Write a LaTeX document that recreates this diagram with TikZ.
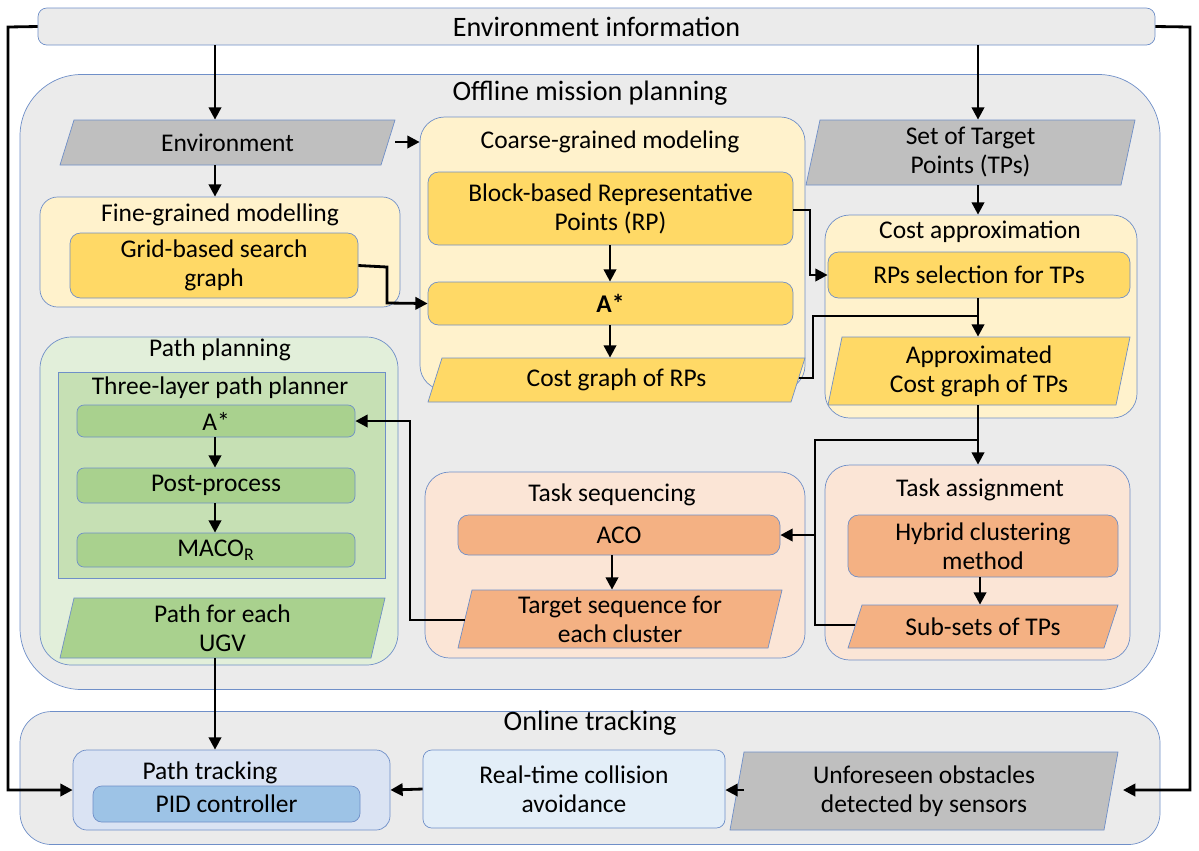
\documentclass[tikz,border=0pt]{standalone}
\usepackage{fontspec}
\setmainfont{Carlito}
\usetikzlibrary{arrows.meta}
\definecolor{bd}{HTML}{6F8FC8}
\definecolor{gr}{HTML}{EBEBEB}
\definecolor{gd}{HTML}{BFBFBF}
\definecolor{ly}{HTML}{FFF2CC}
\definecolor{gy}{HTML}{FFD966}
\definecolor{lg}{HTML}{E2EFDA}
\definecolor{mg}{HTML}{C6E0B4}
\definecolor{dg}{HTML}{A9D18E}
\definecolor{lo}{HTML}{FBE5D6}
\definecolor{og}{HTML}{F4B183}
\definecolor{lb}{HTML}{DAE3F3}
\definecolor{lb2}{HTML}{E3EEF8}
\definecolor{mb}{HTML}{9DC3E6}
\newcommand{\bx}[8]{\node[draw=bd,fill=#6,rounded corners=#7,minimum width={(#4-#2)*0.02cm},minimum height={(#5-#3)*0.02cm},inner sep=0pt,align=center] (#1) at ({(#2+#4)/2},{(#3+#5)/2}) {#8};}
\newcommand{\pa}[7]{\fill[#6,draw=bd] (#2,#5)--({#2+14},#3)--(#4,#3)--({#4-14},#5)--cycle;
\node[minimum width={(#4-#2)*0.02cm},minimum height={(#5-#3)*0.02cm},inner sep=0pt,align=center] (#1) at ({(#2+#4)/2},{(#3+#5)/2}) {#7};}
\begin{document}
\begin{tikzpicture}[x=0.02cm,y=-0.02cm,font=\fontsize{14.5}{16.5}\selectfont,
arr/.style={-{Triangle[length=7pt,width=7pt]},line width=1.6pt},ln/.style={line width=1.6pt}]
\useasboundingbox (0,0) rectangle (1199,850);
% containers
\bx{envinfo}{38}{8}{1155}{45}{gr}{5pt}{\fontsize{16}{19}\selectfont Environment information}
\node[draw=bd,fill=gr,rounded corners=35pt,minimum width={1140*0.02cm},minimum height={615*0.02cm}] (off) at (590,382) {};
\node at (590,93) {\fontsize{16}{19}\selectfont Offline mission planning};
\node[draw=bd,fill=gr,rounded corners=18pt,minimum width={1140*0.02cm},minimum height={133*0.02cm}] (on) at (590,778) {};
\node at (590,723) {\fontsize{16}{19}\selectfont Online tracking};
% offline
\pa{env}{60}{120}{395}{165}{gd}{Environment}
\bx{coarse}{420}{117}{805}{390}{ly}{14pt}{}
\node at (610,142) {Coarse-grained modeling};
\pa{tps}{806}{120}{1135}{185}{gd}{Set of Target\\Points (TPs)}
\bx{brp}{428}{172}{793}{245}{gy}{6pt}{Block-based Representative\\Points (RP)}
\bx{astar1}{428}{282}{793}{325}{gy}{6pt}{\textbf{A*}}
\pa{cgr}{428}{358}{805}{402}{gy}{Cost graph of RPs}
\bx{fine}{40}{197}{400}{307}{ly}{10pt}{}
\node at (220,215) {Fine-grained modelling};
\bx{grid}{70}{233}{358}{298}{gy}{6pt}{Grid-based search\\graph}
\bx{capp}{825}{215}{1137}{418}{ly}{14pt}{}
\node at (980,232) {Cost approximation};
\bx{rps}{828}{252}{1130}{298}{gy}{6pt}{RPs selection for TPs}
\pa{acg}{828}{337}{1130}{405}{gy}{Approximated\\Cost graph of TPs}
\bx{pp}{40}{337}{398}{665}{lg}{18pt}{}
\node at (220,350) {Path planning};
\bx{tl}{58}{372}{385}{578}{mg}{0pt}{}
\node at (220,388) {Three-layer path planner};
\bx{astar2}{77}{405}{355}{437}{dg}{4pt}{A*}
\bx{post}{77}{468}{355}{503}{dg}{4pt}{Post-process}
\bx{maco}{77}{533}{355}{567}{dg}{4pt}{MACO\textsubscript{R}}
\pa{path}{60}{598}{385}{658}{dg}{Path for each\\UGV}
\bx{ts}{425}{472}{805}{658}{lo}{14pt}{}
\node at (612,495) {Task sequencing};
\bx{aco}{458}{515}{780}{555}{og}{6pt}{ACO}
\pa{tseq}{458}{590}{782}{648}{og}{Target sequence for\\each cluster}
\bx{ta}{825}{465}{1130}{660}{lo}{14pt}{}
\node at (980,490) {Task assignment};
\bx{hyb}{848}{515}{1118}{577}{og}{6pt}{Hybrid clustering\\method}
\pa{sub}{848}{605}{1118}{648}{og}{Sub-sets of TPs}
% online
\bx{ptr}{73}{750}{390}{830}{lb}{8pt}{}
\node at (210,773) {Path tracking};
\bx{pid}{93}{786}{360}{822}{mb}{5pt}{PID controller}
\bx{rt}{423}{750}{725}{828}{lb2}{5pt}{Real-time collision\\avoidance}
\pa{unf}{730}{752}{1118}{830}{gd}{Unforeseen obstacles\\detected by sensors}
% connectors
\draw[arr] (envinfo.south-|215,0) -- (env.north-|215,0);
\draw[arr] (envinfo.south-|978,0) -- (tps.north-|978,0);
\draw[arr] (envinfo.west) -- (8,27) -- (8,790) -- (ptr.west|-0,790);
\draw[arr] (envinfo.east) -- (1190,27) -- (1190,790) -- (1123,790);
\draw[arr] (395,142) -- (coarse.west|-0,142);
\draw[arr] (215,165) -- (fine.north-|215,0);
\draw[arr] (grid.east) -- (387,267) -- (387,303) -- (astar1.west);
\draw[arr] (brp.south-|610,0) -- (astar1.north-|610,0);
\draw[arr] (astar1.south-|610,0) -- (cgr.north-|610,0);
\draw[arr] (793,210) -- (810,210) -- (810,275) -- (rps.west);
\draw[arr] (tps.south-|978,0) -- (capp.north-|978,0);
\draw[arr] (rps.south-|978,0) -- (acg.north-|978,0);
\draw[ln] (799,378) -- (813,378) -- (813,316) -- (978,316);
\draw[arr] (978,405) -- (ta.north-|978,0);
\draw[ln] (978,440) -- (815,440) -- (815,625) -- (855,625);
\draw[arr] (815,535) -- (aco.east|-0,535);
\draw[arr] (hyb.south-|980,0) -- (sub.north-|980,0);
\draw[arr] (aco.south-|612,0) -- (tseq.north-|612,0);
\draw[arr] (465,620) -- (410,620) -- (410,421) -- (astar2.east);
\draw[arr] (astar2.south-|215,0) -- (post.north-|215,0);
\draw[arr] (post.south-|215,0) -- (maco.north-|215,0);
\draw[arr] (215,658) -- (ptr.north-|215,0);
\draw[arr] (rt.west) -- (ptr.east|-0,790);
\draw[arr] (744,790) -- (rt.east|-0,790);
\end{tikzpicture}
\end{document}
